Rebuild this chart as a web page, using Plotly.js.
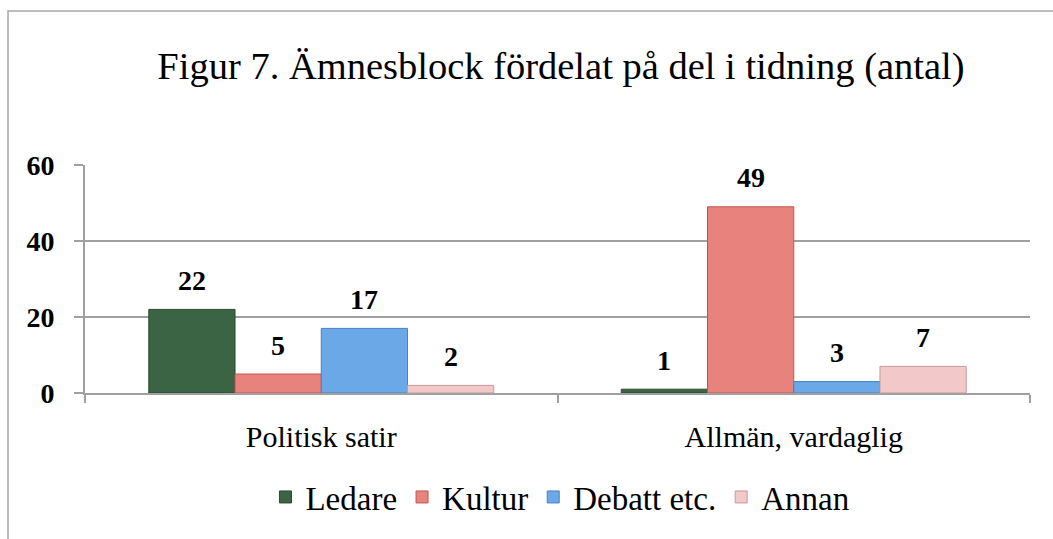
<!DOCTYPE html>
<html>
<head>
<meta charset="utf-8">
<script src="https://cdn.plot.ly/plotly-3.0.1.min.js"></script>
<style>
  html, body { margin: 0; padding: 0; background: #ffffff; }
  #chart { width: 1053px; height: 539px; }
</style>
</head>
<body>
<div id="chart"></div>
<script>
// ---- Data ----
const categories = ['Politisk satir', 'Allmän, vardaglig'];
const seriesNames = ['Ledare', 'Kultur', 'Debatt etc.', 'Annan'];
const ledare = [22, 1];
const kultur = [5, 49];
const debatt = [17, 3];
const annan  = [2, 7];
const yTicks = [0, 20, 40, 60];
const titleText = 'Figur 7. Ämnesblock fördelat på del i tidning (antal)';

// ---- Styling ----
const FONT = 'Liberation Serif';
const fills   = ['#3b6445', '#e8827c', '#6aa8e8', '#f3c8c8'];
const borders = ['#2a4a32', '#c25650', '#4a80c0', '#c89a9a'];
const seriesValues = [ledare, kultur, debatt, annan];

const traces = seriesValues.map((vals, i) => ({
  type: 'bar',
  name: seriesNames[i],
  x: categories,
  y: vals,
  marker: { color: fills[i], line: { color: borders[i], width: 1 } },
  hoverinfo: 'x+y+name'
}));

// value labels placed through the axes (category + value), shifted to each bar slot
const nSeries = seriesValues.length;
const plotW = 1053 - 85 - 23;
const bargap = 0.27;
const barPx = (plotW / categories.length) * (1 - bargap) / nSeries;
const annotations = [];
seriesValues.forEach((vals, i) => {
  vals.forEach((v, j) => {
    annotations.push({
      x: categories[j], y: v, xref: 'x', yref: 'y',
      text: '<b>' + v + '</b>', showarrow: false,
      xshift: (i - (nSeries - 1) / 2) * barPx,
      yshift: 29, yanchor: 'middle',
      font: { family: FONT, size: 28, color: '#000' }
    });
  });
});

const layout = {
  width: 1053, height: 539,
  margin: { l: 85, r: 23, t: 165, b: 146 },
  paper_bgcolor: '#ffffff', plot_bgcolor: '#ffffff',
  font: { family: FONT, color: '#000', size: 28 },
  title: {
    text: titleText,
    font: { family: FONT, size: 38.5, color: '#000' },
    x: 0.5037, xref: 'paper', xanchor: 'center',
    y: 1 - 66 / 539, yref: 'container', yanchor: 'middle'
  },
  barmode: 'group', bargap: bargap, bargroupgap: 0,
  xaxis: {
    type: 'category',
    showgrid: false, zeroline: false,
    showline: true, linecolor: '#a0a0a0', linewidth: 2,
    ticks: 'outside', tickson: 'boundaries', ticklen: 8, tickwidth: 2, tickcolor: '#a0a0a0',
    tickfont: { family: FONT, size: 30, color: '#000' },
    ticklabelstandoff: 16,
    fixedrange: true
  },
  yaxis: {
    range: [0, 60], tickvals: yTicks, ticktext: yTicks.map(t => '<b>' + t + '</b>'),
    showgrid: true, gridcolor: '#a0a0a0', gridwidth: 2,
    zeroline: false,
    showline: true, linecolor: '#a0a0a0', linewidth: 2,
    ticks: 'outside', ticklen: 9, tickwidth: 2, tickcolor: '#a0a0a0',
    tickfont: { family: FONT, size: 28, color: '#000' },
    ticklabelstandoff: 14,
    fixedrange: true
  },
  showlegend: true,
  legend: {
    orientation: 'h', x: 0.5026, xanchor: 'center', xref: 'paper',
    y: (393 - 497) / 228, yanchor: 'middle',
    font: { family: FONT, size: 33, color: '#000' },
    itemwidth: 30, tracegroupgap: 0,
    bgcolor: 'rgba(0,0,0,0)'
  },
  annotations: annotations,
  shapes: [{
    type: 'rect', xref: 'paper', yref: 'paper',
    x0: (8 - 85) / plotW, x1: 1.2,
    y0: -1.2, y1: (393 - 11) / 228,
    line: { color: '#a8a8a8', width: 1.5 }, fillcolor: 'rgba(0,0,0,0)', layer: 'below'
  }]
};

Plotly.newPlot('chart', traces, layout, { displayModeBar: false, staticPlot: true });
</script>
</body>
</html>
